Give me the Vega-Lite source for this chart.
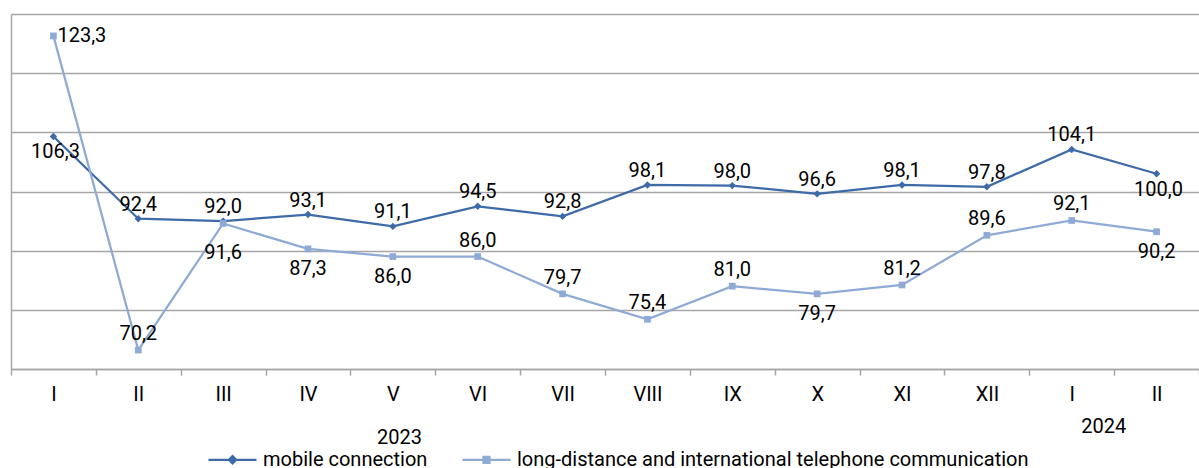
{
  "$schema": "https://vega.github.io/schema/vega-lite/v6.json",
  "width": 1188,
  "height": 355,
  "autosize": {"type": "none"},
  "padding": {"left": 11, "top": 14, "right": 0, "bottom": 99},
  "background": "white",
  "config": {
    "view": {"stroke": null},
    "font": "Roboto",
    "locale": {"number": {"decimal": ",", "thousands": " ", "grouping": [3], "currency": ["", ""]}}
  },
  "data": {"values": [
    {"period": "I 2023", "series": "mobile connection", "value": 106.3},
    {"period": "II 2023", "series": "mobile connection", "value": 92.4},
    {"period": "III 2023", "series": "mobile connection", "value": 92.0},
    {"period": "IV 2023", "series": "mobile connection", "value": 93.1},
    {"period": "V 2023", "series": "mobile connection", "value": 91.1},
    {"period": "VI 2023", "series": "mobile connection", "value": 94.5},
    {"period": "VII 2023", "series": "mobile connection", "value": 92.8},
    {"period": "VIII 2023", "series": "mobile connection", "value": 98.1},
    {"period": "IX 2023", "series": "mobile connection", "value": 98.0},
    {"period": "X 2023", "series": "mobile connection", "value": 96.6},
    {"period": "XI 2023", "series": "mobile connection", "value": 98.1},
    {"period": "XII 2023", "series": "mobile connection", "value": 97.8},
    {"period": "I 2024", "series": "mobile connection", "value": 104.1},
    {"period": "II 2024", "series": "mobile connection", "value": 100.0},
    {"period": "I 2023", "series": "long-distance and international telephone communication", "value": 123.3},
    {"period": "II 2023", "series": "long-distance and international telephone communication", "value": 70.2},
    {"period": "III 2023", "series": "long-distance and international telephone communication", "value": 91.6},
    {"period": "IV 2023", "series": "long-distance and international telephone communication", "value": 87.3},
    {"period": "V 2023", "series": "long-distance and international telephone communication", "value": 86.0},
    {"period": "VI 2023", "series": "long-distance and international telephone communication", "value": 86.0},
    {"period": "VII 2023", "series": "long-distance and international telephone communication", "value": 79.7},
    {"period": "VIII 2023", "series": "long-distance and international telephone communication", "value": 75.4},
    {"period": "IX 2023", "series": "long-distance and international telephone communication", "value": 81.0},
    {"period": "X 2023", "series": "long-distance and international telephone communication", "value": 79.7},
    {"period": "XI 2023", "series": "long-distance and international telephone communication", "value": 81.2},
    {"period": "XII 2023", "series": "long-distance and international telephone communication", "value": 89.6},
    {"period": "I 2024", "series": "long-distance and international telephone communication", "value": 92.1},
    {"period": "II 2024", "series": "long-distance and international telephone communication", "value": 90.2}
  ]},
  "encoding": {
    "x": {
      "field": "period",
      "type": "nominal",
      "scale": {
        "domain": ["I 2023", "II 2023", "III 2023", "IV 2023", "V 2023", "VI 2023", "VII 2023", "VIII 2023", "IX 2023", "X 2023", "XI 2023", "XII 2023", "I 2024", "II 2024"],
        "type": "band", "paddingInner": 0, "paddingOuter": 0
      },
      "axis": {
        "title": "2023",
        "titleFontSize": 20,
        "titleFontWeight": "normal",
        "titleColor": "#000000",
        "titleX": 388,
        "titleY": 68,
        "titleBaseline": "middle",
        "titleAlign": "center",
        "labelAngle": 0,
        "labelExpr": "split(datum.label, ' ')[0]",
        "labelFontSize": 20,
        "labelColor": "#000000",
        "labelPadding": 9,
        "tickBand": "extent",
        "tickSize": 6,
        "tickColor": "#a6a6a6",
        "tickWidth": 1.5,
        "domainColor": "#a6a6a6",
        "domainWidth": 1.5,
        "grid": false
      }
    }
  },
  "layer": [
    {
      "encoding": {
        "y": {
          "field": "value",
          "type": "quantitative",
          "scale": {"domain": [67, 127], "nice": false, "zero": false},
          "axis": {
            "title": null,
            "values": [67, 77, 87, 97, 107, 117, 127],
            "labels": false,
            "ticks": false,
            "domainColor": "#a6a6a6",
            "domainWidth": 1.5,
            "grid": true,
            "gridColor": "#a6a6a6",
            "gridWidth": 1.5
          }
        }
      },
      "layer": [
        {
          "mark": {"type": "line", "strokeWidth": 2.25},
          "encoding": {
            "color": {
              "field": "series",
              "type": "nominal",
              "scale": {
                "domain": ["mobile connection", "long-distance and international telephone communication"],
                "range": ["#3e6ba8", "#8eaad5"]
              },
              "legend": {
                "title": null,
                "orient": "none",
                "direction": "horizontal",
                "legendX": 196,
                "legendY": 420,
                "padding": 0,
                "columnPadding": 30,
                "labelFontSize": 20,
                "labelColor": "#000000",
                "labelOffset": 5,
                "labelLimit": 0,
                "symbolSize": 2304,
                "symbolStrokeWidth": 2.25,
                "encode": {
                  "symbols": {
                    "update": {
                      "shape": {"signal": "datum.value == 'mobile connection' ? 'M-1,0H1M0,-0.15L0.15,0L0,0.15L-0.15,0Z' : 'M-1,0H1M-0.125,-0.125H0.125V0.125H-0.125Z'"},
                      "fill": {"signal": "scale('color', datum.value)"},
                      "fillOpacity": {"value": 1},
                      "stroke": {"signal": "scale('color', datum.value)"}
                    }
                  }
                }
              }
            }
          }
        },
        {
          "transform": [{"filter": {"field": "series", "equal": "mobile connection"}}],
          "mark": {"type": "point", "filled": true, "opacity": 1, "shape": "diamond", "size": 55, "color": "#3e6ba8"}
        },
        {
          "transform": [{"filter": {"field": "series", "equal": "long-distance and international telephone communication"}}],
          "mark": {"type": "point", "filled": true, "opacity": 1, "shape": "square", "size": 45, "color": "#8eaad5"}
        },
        {
          "transform": [
            {"filter": "datum.series == 'mobile connection' && datum.period != 'I 2023' && datum.period != 'II 2024'"}
          ],
          "mark": {"type": "text", "fontSize": 20, "color": "#000000", "baseline": "middle", "dy": -14},
          "encoding": {"text": {"field": "value", "type": "quantitative", "format": ".1f"}}
        },
        {
          "transform": [
            {"filter": "datum.series == 'mobile connection' && (datum.period == 'I 2023' || datum.period == 'II 2024')"}
          ],
          "mark": {"type": "text", "fontSize": 20, "color": "#000000", "baseline": "middle", "dy": 16, "dx": 2},
          "encoding": {"text": {"field": "value", "type": "quantitative", "format": ".1f"}}
        },
        {
          "transform": [
            {"filter": "datum.series != 'mobile connection' && datum.period == 'I 2023'"}
          ],
          "mark": {"type": "text", "fontSize": 20, "color": "#000000", "baseline": "middle", "align": "left", "dx": 4},
          "encoding": {"text": {"field": "value", "type": "quantitative", "format": ".1f"}}
        },
        {
          "transform": [
            {"filter": {"field": "series", "equal": "long-distance and international telephone communication"}},
            {"filter": {"field": "period", "oneOf": ["II 2023", "VI 2023", "VII 2023", "VIII 2023", "IX 2023", "XI 2023", "XII 2023", "I 2024"]}}
          ],
          "mark": {"type": "text", "fontSize": 20, "color": "#000000", "baseline": "middle", "dy": -16},
          "encoding": {"text": {"field": "value", "type": "quantitative", "format": ".1f"}}
        },
        {
          "transform": [
            {"filter": {"field": "series", "equal": "long-distance and international telephone communication"}},
            {"filter": {"field": "period", "oneOf": ["IV 2023", "V 2023", "X 2023", "II 2024"]}}
          ],
          "mark": {"type": "text", "fontSize": 20, "color": "#000000", "baseline": "middle", "dy": 20},
          "encoding": {"text": {"field": "value", "type": "quantitative", "format": ".1f"}}
        },
        {
          "transform": [
            {"filter": {"field": "series", "equal": "long-distance and international telephone communication"}},
            {"filter": {"field": "period", "equal": "III 2023"}}
          ],
          "mark": {"type": "text", "fontSize": 20, "color": "#000000", "baseline": "middle", "dy": 30},
          "encoding": {"text": {"field": "value", "type": "quantitative", "format": ".1f"}}
        }
      ]
    },
    {
      "data": {"values": [{"period": "I 2024", "label": "2024"}]},
      "mark": {"type": "text", "fontSize": 20, "color": "#000000", "baseline": "middle", "dx": 32},
      "encoding": {
        "y": {
          "datum": 57.2,
          "type": "quantitative",
          "axis": {
            "title": null,
            "values": [67, 77, 87, 97, 107, 117, 127],
            "labels": false,
            "ticks": false,
            "domainColor": "#a6a6a6",
            "domainWidth": 1.5,
            "grid": true,
            "gridColor": "#a6a6a6",
            "gridWidth": 1.5
          }
        },
        "text": {"field": "label", "type": "nominal"}
      }
    }
  ]
}
